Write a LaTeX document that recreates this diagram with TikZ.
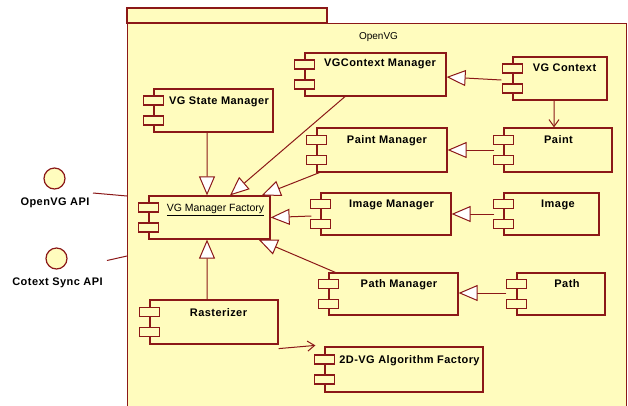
\documentclass[tikz,border=0pt]{standalone}
\usepackage{fontspec}
\setmainfont{Liberation Sans}
\newfontfamily\lblfont[LetterSpace=4]{Liberation Sans}
\usetikzlibrary{arrows.meta,calc}

\definecolor{umlline}{RGB}{139,24,24}
\definecolor{umlfill}{RGB}{255,252,190}

\tikzset{
  pkgbox/.style={draw=umlline, fill=umlfill, line width=1.2bp},
  comp/.style={draw=umlline, fill=umlfill, line width=1.2bp, rectangle, inner sep=0pt},
  comptab/.style={draw=umlline, fill=umlfill, line width=1.2bp},
  lbl/.style={anchor=base, inner sep=0pt, font=\lblfont\fontsize{11bp}{13bp}\selectfont\bfseries},
  plainlbl/.style={anchor=base, inner sep=0pt, font=\fontsize{10.5bp}{12bp}\selectfont},
  iface/.style={circle, draw=umlline, fill=umlfill, line width=1.2bp, minimum size=21bp, inner sep=0pt},
  gen/.style={draw=umlline, line width=1bp, -{Triangle[open, length=19bp, width=16bp, fill=white]}},
  dep/.style={draw=umlline, line width=1bp, -{Straight Barb[length=7bp, width=10bp]}},
  link/.style={draw=umlline, line width=1bp}
}

% component box: name, centre, width, height
\newcommand\compbox[5]{%
  \node[comp, minimum width=#4bp, minimum height=#5bp] (#1) at (#2,#3) {};
  \draw[comptab] ($(#1.west)+(-10,-14.5)$) rectangle ($(#1.west)+(10,-5.5)$);
  \draw[comptab] ($(#1.west)+(-10,5.5)$) rectangle ($(#1.west)+(10,14.5)$);
}

\begin{document}
\begin{tikzpicture}[x=1bp, y=-1bp]
\useasboundingbox (0,0) rectangle (628,405);
\begin{scope}
\clip (0,0) rectangle (628,405);
% package
\draw[pkgbox] (127,8) rectangle (327,23);
\node[pkgbox, rectangle, minimum width=499bp, minimum height=390bp, anchor=north west] (pkg) at (127,23) {};
\end{scope}
\node[plainlbl, font=\fontsize{10bp}{12bp}\selectfont] (pkgname) at (378.5,39) {OpenVG};

% components
\compbox{ctxm}{375.5}{74.5}{141}{43}
\compbox{ctx}{560}{78.5}{94}{43}
\compbox{state}{213.5}{110.5}{119}{43}
\compbox{paintm}{382}{150}{130}{44}
\compbox{paint}{558}{150}{108}{44}
\compbox{vgmf}{209.5}{217.5}{121}{43}
\compbox{imgm}{386}{214}{130}{42}
\compbox{img}{551.5}{214}{95}{42}
\compbox{pathm}{393.5}{294}{129}{42}
\compbox{path}{561}{294}{88}{42}
\compbox{rast}{214}{322}{128}{44}
\compbox{algo}{404}{369.5}{158}{45}

% component names
\node[lbl] (ctxm-t) at (380,66.5) {VGContext Manager};
\node[lbl] (ctx-t) at (564.5,71.5) {VG Context};
\node[lbl] (state-t) at (219,104) {VG State Manager};
\node[lbl] (paintm-t) at (387,143.5) {Paint Manager};
\node[lbl] (paint-t) at (558.5,143.5) {Paint};
\node[plainlbl] (vgmf-t) at (215.5,211.5) {\underline{VG Manager Factory}};
\node[lbl] (imgm-t) at (391.5,207) {Image Manager};
\node[lbl] (img-t) at (558,207) {Image};
\node[lbl] (pathm-t) at (399,287) {Path Manager};
\node[lbl] (path-t) at (567,287) {Path};
\node[lbl] (rast-t) at (218.5,316) {Rasterizer};
\node[lbl] (algo-t) at (409.5,363) {2D-VG Algorithm Factory};

% provided interfaces
\node[iface] (api1) at (54.5,178.5) {};
\node[iface] (api2) at (56.5,258.5) {};
\node[lbl] (api1-t) at (55,205) {OpenVG API};
\node[lbl] (api2-t) at (57.5,285) {Cotext Sync API};
\coordinate (api1-end) at (93,193);
\coordinate (api2-end) at (107,260.5);
\draw[link] (api1-end) -- ($(api1-end -| pkg.west)+(0,3)$);
\draw[link] (api2-end) -- ($(api2-end -| pkg.west)+(0,-4.5)$);

% generalisations onto the manager factory
\draw[gen] ([xshift=-6.5bp]state.south) -- ([xshift=-2.5bp]vgmf.north);
\draw[gen] ([xshift=-30.5bp]ctxm.south) -- ([xshift=20.5bp]vgmf.north);
\draw[gen] ([xshift=3bp]paintm.south west) -- ([xshift=-9bp]vgmf.north east);
\draw[gen] ([xshift=-9bp,yshift=-2bp]imgm.west) -- (vgmf.east);
\draw[gen] ([xshift=7bp]pathm.north west) -- ([xshift=-12bp]vgmf.south east);
\draw[gen] ([xshift=-7bp]rast.north) -- ([xshift=-2.5bp]vgmf.south);

% generalisations onto the managers
\draw[gen] ([xshift=-11bp,yshift=-1.5bp]ctx.west) -- ($(ctxm.east)+(0,2.5)$);
\draw[gen] ([xshift=-9bp]paint.west) -- (paintm.east);
\draw[gen] ([xshift=-9bp]img.west) -- (imgm.east);
\draw[gen] ([xshift=-10bp,yshift=1bp]path.west) -- ([yshift=1bp]pathm.east);

% dependencies
\draw[dep] ([xshift=-6bp]ctx.south) -- ([xshift=-4bp]paint.north);
\draw[dep] ([yshift=-4bp]rast.south east) -- ([xshift=-9bp,yshift=1bp]algo.north west);
\end{tikzpicture}
\end{document}
